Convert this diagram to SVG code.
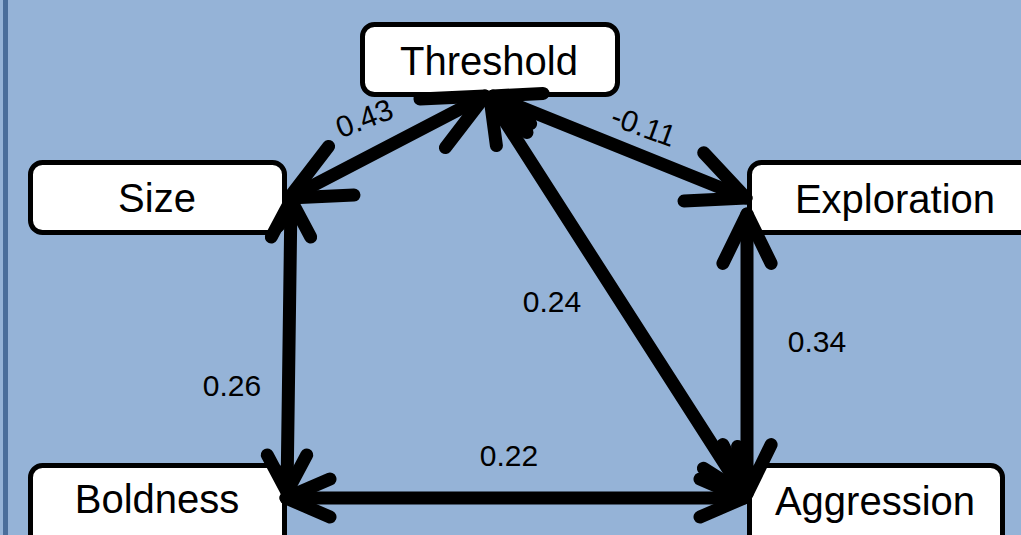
<svg xmlns="http://www.w3.org/2000/svg" width="1021" height="535" viewBox="0 0 1021 535">
  <style>
    .box { fill: #ffffff; stroke: #000000; stroke-width: 5; }
    .lbl { font-family: "Liberation Sans", Arial, sans-serif; font-size: 40px; fill: #000000; text-anchor: middle; }
    .num { font-family: "Liberation Sans", Arial, sans-serif; font-size: 30px; fill: #000000; text-anchor: middle; }
    .conn { fill: none; stroke: #000000; stroke-width: 13; stroke-linecap: round; stroke-linejoin: round; }
  </style>
  <rect x="0" y="0" width="1021" height="535" fill="#95B3D7"/>
  <line x1="5.5" y1="0" x2="5.5" y2="535" stroke="#4A6E9B" stroke-width="5"/>

  <g id="node-threshold">
    <rect class="box" x="362.5" y="24.5" width="255" height="70" rx="12"/>
    <text class="lbl" x="489" y="75">Threshold</text>
  </g>
  <g id="node-size">
    <rect class="box" x="30.5" y="162.5" width="254" height="70" rx="12"/>
    <text class="lbl" x="157" y="212">Size</text>
  </g>
  <g id="node-exploration">
    <rect class="box" x="749.5" y="162.5" width="300" height="70" rx="12"/>
    <text class="lbl" x="895" y="213">Exploration</text>
  </g>
  <g id="node-boldness">
    <rect class="box" x="30.5" y="465.5" width="254" height="90" rx="12"/>
    <text class="lbl" x="157" y="513">Boldness</text>
  </g>
  <g id="node-aggression">
    <rect class="box" x="749.5" y="465.5" width="253" height="90" rx="12"/>
    <text class="lbl" x="875" y="515">Aggression</text>
  </g>

  <g id="connectors">
    <!-- Size <-> Threshold -->
    <line class="conn" x1="289" y1="198" x2="485" y2="96"/>
    <polyline class="conn" points="354,195 289,198 328.6,146.4"/>
    <polyline class="conn" points="420,98.9 485,96 445.4,147.6"/>
    <!-- Threshold <-> Exploration -->
    <line class="conn" x1="493" y1="96" x2="746" y2="198"/>
    <polyline class="conn" points="527,132.5 493,96 543,93.4"/>
    <polyline class="conn" points="703.7,152.7 746,198 684,201"/>
    <!-- Threshold <-> Aggression -->
    <line class="conn" x1="490" y1="98" x2="744" y2="494"/>
    <polyline class="conn" points="496.4,145.6 490,98 530.6,123.7"/>
    <polyline class="conn" points="737.6,446.4 744,494 703.4,468.3"/>
    <!-- Exploration <-> Aggression -->
    <line class="conn" x1="747" y1="214" x2="747" y2="494"/>
    <polyline class="conn" points="722.9,263.4 747,214 771.1,263.4"/>
    <polyline class="conn" points="722.9,444.6 747,494 771.1,444.6"/>
    <!-- Boldness <-> Aggression -->
    <line class="conn" x1="286" y1="498" x2="744" y2="498"/>
    <polyline class="conn" points="330,479 286,498 330,517"/>
    <polyline class="conn" points="700,479 744,498 700,517"/>
    <!-- Size <-> Boldness -->
    <line class="conn" x1="291" y1="200" x2="287" y2="492"/>
    <polyline class="conn" points="271.3,237 291,200 310.7,237"/>
    <polyline class="conn" points="267.3,455 287,492 306.7,455"/>
  </g>

  <g id="labels">
    <text class="num" transform="translate(368,128) rotate(-21)" x="0" y="0">0.43</text>
    <text class="num" transform="translate(640,136) rotate(20)" x="0" y="0">-0.11</text>
    <text class="num" x="552" y="312">0.24</text>
    <text class="num" x="817" y="352">0.34</text>
    <text class="num" x="232" y="396">0.26</text>
    <text class="num" x="509" y="466">0.22</text>
  </g>
</svg>
